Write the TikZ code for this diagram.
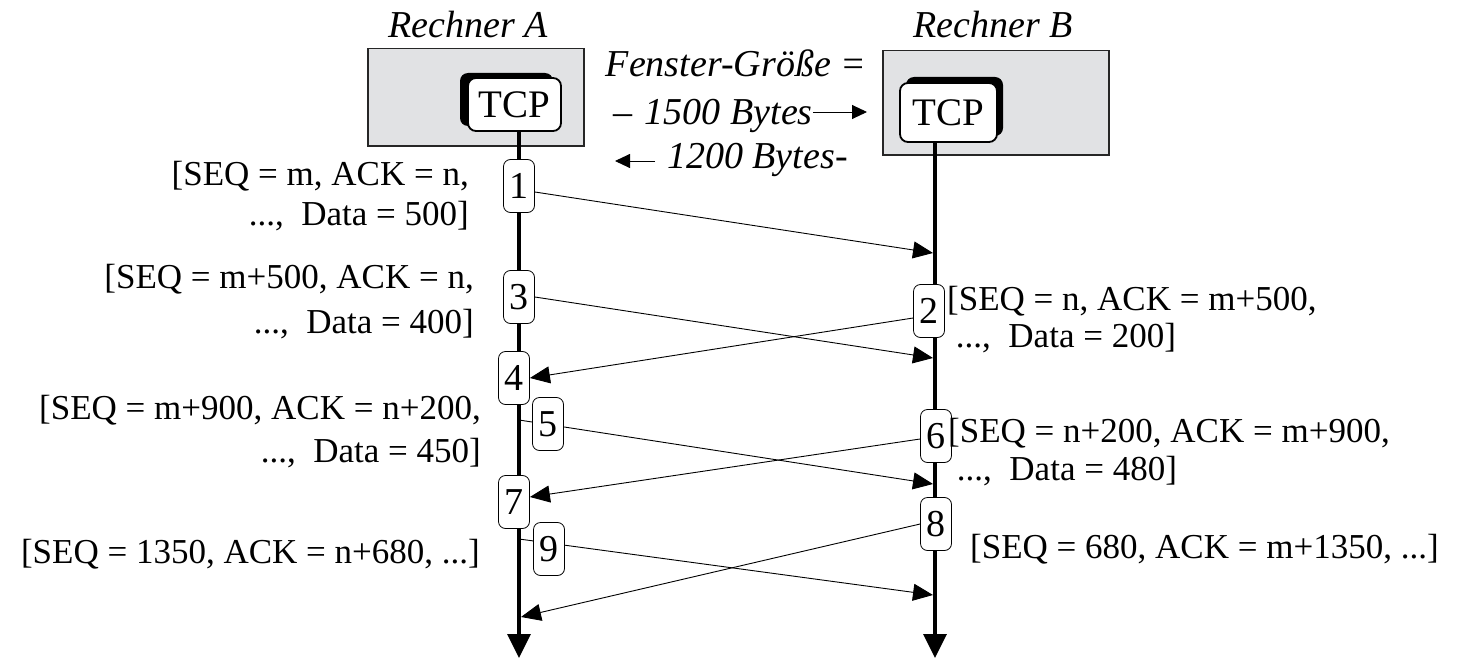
\documentclass[tikz,border=0pt]{standalone}
\usepackage{fontspec}
\setmainfont{Liberation Serif}
\usetikzlibrary{arrows.meta,shadows}
\definecolor{hostgray}{RGB}{225,226,228}

\begin{document}
\begin{tikzpicture}[x=1pt, y=-1pt,
  host/.style={draw=black!85, line width=1.5pt, fill=hostgray, inner sep=0pt},
  tcp/.style={draw, line width=1.8pt, fill=white, rounded corners=8pt, inner sep=0pt,
    font=\fontsize{39}{39}\selectfont},
  seq/.style={draw, line width=0.8pt, fill=white, rounded corners=7pt, inner sep=0pt,
    minimum width=31pt, minimum height=53pt, font=\fontsize{38}{38}\selectfont},
  msg/.style={line width=0.9pt, -{Triangle[length=20pt,width=17pt]}},
  winarrow/.style={line width=0.9pt, -{Triangle[length=15pt,width=14pt]}},
  timeline/.style={line width=3.5pt, -{Triangle[length=24pt,width=23pt]}},
  info/.style={font=\fontsize{35}{40}\selectfont, inner sep=0pt},
  head/.style={font=\fontsize{38}{46}\selectfont\itshape, inner sep=0pt}]
\useasboundingbox (0,0) rectangle (1475,661);

% Rechner
\node[head, anchor=base] (nameA) at (468,38) {Rechner A};
\node[head, anchor=base] (nameB) at (993,38) {Rechner B};
\node[host, anchor=north west, minimum width=216pt, minimum height=97pt] (hostA) at (367,48) {};
\node[host, anchor=north west, minimum width=226pt, minimum height=104pt] (hostB) at (882,50) {};
\node[tcp, minimum width=93pt, minimum height=53pt,
  drop shadow={shadow xshift=-8pt, shadow yshift=5pt, fill=black, opacity=1}] (tcpA) at (514.5,104.5) {TCP};
\node[tcp, minimum width=97pt, minimum height=59pt,
  drop shadow={shadow xshift=6pt, shadow yshift=6pt, fill=black, opacity=1}] (tcpB) at (948.5,112.5) {TCP};

% Fenster
\node[head, anchor=base] (win) at (736,77) {Fenster-Größe =};
\node[head, anchor=base west] (win1) at (613,124) {–\,\,1500 Bytes};
\node[head, anchor=base west] (win2) at (667,168) {1200 Bytes-};
\coordinate (w1) at (867,112);
\coordinate (w2) at (615,161);
\draw[winarrow] (win1.east |- w1) -- (w1);
\draw[winarrow, shorten <=12pt] (win2.west |- w2) -- (w2);

% Zeitachsen
\coordinate (endA) at (519,658);
\coordinate (endB) at (935,658);
\draw[timeline] (tcpA.south -| endA) -- (endA);
\draw[timeline] (tcpB.south -| endB) -- (endB);

% Segmente hinter den Kaestchen
\coordinate (a5) at (519,420);
\coordinate (b5) at (933,484);
\coordinate (a9) at (519,539);
\coordinate (b9) at (933,595);
\draw[msg] (a5) -- (b5);
\draw[msg] (a9) -- (b9);

\foreach \n/\x/\y in {1/519/186, 2/929/311, 3/519/297, 4/514/378, 5/548/424,
                      6/936/436, 7/514/502, 8/936/524, 9/549/549}
  \node[seq] (s\n) at (\x,\y) {\n};

\coordinate (b1) at (933,253);
\coordinate (b3) at (933,358);
\coordinate (a8) at (521,617);
\draw[msg] ([yshift=-6pt]s1.east) -- (b1);
\draw[msg] (s3.east) -- (b3);
\draw[msg] ([yshift=-7pt]s2.west) -- (s4.east);
\draw[msg] ([yshift=-3pt]s6.west) -- ([yshift=5pt]s7.east);
\draw[msg] (s8.west) -- (a8);

% Beschriftungen
\node[info, align=right, anchor=base east] (l1) at (469,225) {[SEQ = m, ACK = n,\\...,~~Data = 500]};
\node[info, align=right, anchor=base east] (l3) at (474,333) {[SEQ = m+500, ACK = n,\\[5pt]...,~~Data = 400]};
\node[info, align=right, anchor=base east] (l5) at (481,462) {[SEQ = m+900, ACK = n+200,\\[3pt]...,~~Data = 450]};
\node[info, anchor=base east] (l9) at (480,563) {[SEQ = 1350, ACK = n+680, ...]};
\node[info, align=left, anchor=base west] (l2) at (947,347) {[SEQ = n, ACK = m+500,\\[-3pt]\ ...,~~Data = 200]};
\node[info, align=left, anchor=base west] (l6) at (948,480) {[SEQ = n+200, ACK = m+900,\\[-2pt]\ ...,~~Data = 480]};
\node[info, anchor=base west] (l8) at (970,558) {[SEQ = 680, ACK = m+1350, ...]};
\end{tikzpicture}
\end{document}
